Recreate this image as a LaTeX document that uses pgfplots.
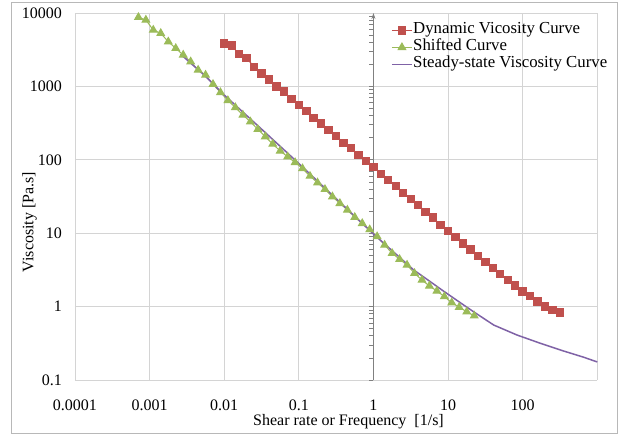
\documentclass[border=0pt]{standalone}
\usepackage{fontspec}
\setmainfont{Liberation Serif}
\usepackage{pgfplots}
\pgfplotsset{compat=1.18}
\usetikzlibrary{arrows.meta}
\definecolor{exred}{HTML}{C0504D}
\definecolor{exgreen}{HTML}{9BBB59}
\definecolor{expurple}{HTML}{7F62A6}
\begin{document}
\begin{tikzpicture}[font=\fontsize{16bp}{19bp}\selectfont]
\useasboundingbox (-75bp,-55bp) rectangle (545bp,380bp);
\draw[color=black!28, line width=0.9bp] (-63.3bp,-53.3bp) rectangle (542bp,377.3bp);
\begin{axis}[
  at={(0,0)}, anchor=south west, scale only axis,
  width=522.3bp, height=367bp,
  xmode=log, ymode=log,
  xmin=1e-4, xmax=1e3, ymin=0.1, ymax=1e4,
  axis line style={draw=none},
  major tick length=0pt, minor tick length=0pt,
  xtick={1e-4,1e-3,0.01,0.1,1,10,100,1000},
  xticklabels={0.0001,0.001,0.01,0.1,1,10,100,{}},
  ytick={0.1,1,10,100,1000,10000},
  yticklabels={0.1,1,10,100,1000,10000},
  grid=major, major grid style={color=black!17, line width=0.9bp},
  xticklabel style={anchor=north, inner sep=0pt, yshift=-20bp},
  yticklabel style={anchor=east, inner sep=0pt, xshift=-13bp},
  clip=false,
  legend cell align=left,
  legend image code/.code={\draw[mark repeat=2,mark phase=2] plot coordinates {(0bp,0bp) (10bp,0bp) (20bp,0bp)};},
  legend style={draw=none, fill=none, inner sep=0pt, at={(0.605,0.975)}, anchor=north west,
    row sep=1bp, font=\fontsize{16.8bp}{19bp}\selectfont,
    nodes={inner sep=0.5bp, text height=11bp, text depth=4bp},
    /tikz/every even column/.append style={column sep=0pt}},
]
\pgfplotsextra{
  \draw[color=black!50, line width=1bp, -{Stealth[length=6bp,width=4bp]}] (axis cs:1,0.1) -- (axis cs:1,10000);
  \foreach \d in {0.1,1,10,100,1000}{
    \foreach \m in {1,...,9}{
      \pgfmathsetmacro\v{\d*\m}
      \draw[color=black!50, line width=0.7bp] (axis cs:1,\v) -- ++(-4bp,0bp);
    }
  }
}
\addplot[exred, line width=1bp, mark=square*, mark size=3.7bp, mark options={solid}] coordinates {
(0.01,3865) (0.0126,3590) (0.0158,2740) (0.02,2415) (0.0251,1855) (0.0316,1507) (0.0398,1249) (0.0501,991) (0.0631,847) (0.0794,673)
(0.1,558) (0.126,462) (0.158,368) (0.2,314) (0.251,255) (0.316,211) (0.398,171) (0.501,144) (0.631,116) (0.794,97)
(1,80) (1.26,64) (1.58,53) (2,44) (2.51,35.6) (3.16,29) (3.98,24.2) (5.01,19.6) (6.31,16.3) (7.94,12.9)
(10,10.7) (12.6,8.8) (15.8,7.2) (20,5.96) (25.1,4.89) (31.6,4.03) (39.8,3.33) (50.1,2.76) (63.1,2.30) (79.4,1.93)
(100,1.60) (126,1.39) (158,1.17) (200,1.0) (251,0.90) (316,0.83)
};
\addlegendentry{Dynamic Vicosity Curve}
\addplot[exgreen, line width=1bp, mark=triangle*, mark size=4.3bp, mark options={solid}] coordinates {
(0.000708,8740) (0.000891,8040) (0.00112,5860) (0.00141,5290) (0.00178,4060) (0.00224,3300) (0.00282,2680) (0.00355,2170) (0.00447,1673) (0.00562,1430)
(0.00708,1069) (0.00891,826) (0.0112,643) (0.0141,516) (0.0178,408) (0.0224,330) (0.0282,260) (0.0355,207) (0.0447,164) (0.0562,132)
(0.0708,110) (0.0891,92) (0.112,76) (0.141,60) (0.178,48.7) (0.224,39.6) (0.282,31.4) (0.355,25.5) (0.447,20.7) (0.562,16.5)
(0.708,13.6) (0.891,11.2) (1.12,9.0) (1.41,6.9) (1.78,5.33) (2.24,4.41) (2.82,3.69) (3.55,2.84) (4.47,2.30) (5.62,1.91)
(7.08,1.63) (8.91,1.37) (11.2,1.13) (14.1,0.98) (17.8,0.85) (22.4,0.75)
};
\addlegendentry{Shifted Curve}
\addplot[expurple, line width=1.5bp, no marks] coordinates {
(0.0026,2750) (0.0057,1355) (0.01,764) (0.03,275) (0.1,89) (0.3,31.1) (1,9.75) (3.47,3.15) (5.8,2.18) (8.3,1.68)
(16.2,1.05) (22,0.85) (41,0.56) (84,0.41) (173,0.316) (355,0.248) (660,0.204) (1000,0.176)
};
\addlegendentry{Steady-state Viscosity Curve}
\end{axis}
\node[rotate=90] at (-45.5bp,158bp) {Viscosity [Pa.s]};
\node at (273.5bp,-42bp) {Shear rate or Frequency\ \ [1/s]};
\end{tikzpicture}
\end{document}
